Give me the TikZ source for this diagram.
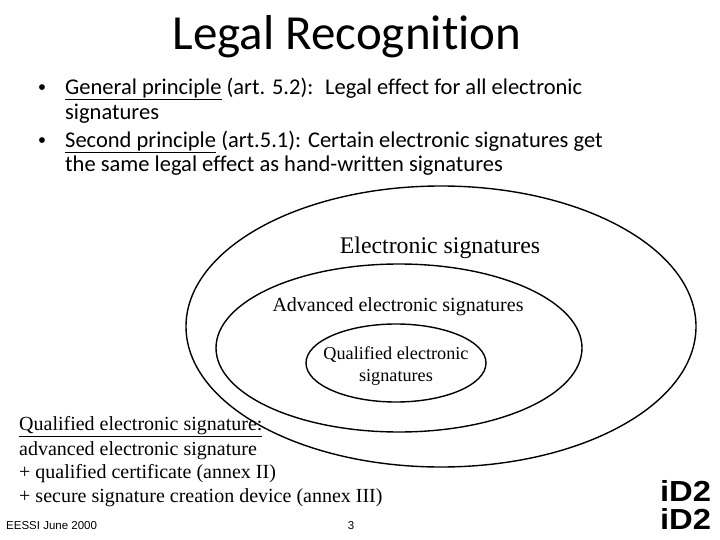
\documentclass[tikz,border=0pt]{standalone}
\usepackage{fontspec}
\setmainfont{Liberation Serif}
\setsansfont[Ligatures={NoCommon,TeX}]{Carlito}
\newfontfamily\footfont{Liberation Sans}
\tikzset{
  slidetext/.style={anchor=west,inner sep=0pt,font=\sffamily\fontsize{22.5}{22.5}\selectfont},
  bulletdot/.style={inner sep=0pt,font=\fontsize{24}{24}\selectfont},
  note/.style={anchor=west,inner sep=0pt,font=\fontsize{20}{20}\selectfont},
  logo/.style={inner sep=0pt,xscale=1.13,font=\footfont\bfseries\fontsize{29}{29}\selectfont}
}
\begin{document}
\begin{tikzpicture}[x=1pt,y=-1pt]
  \useasboundingbox (0,0) rectangle (720,540);
  % title and bullets
  \node (title) [inner sep=0pt,font=\sffamily\fontsize{49}{49}\selectfont] at (347,37) {Legal Recognition};
  \node (dotone) [bulletdot] at (42,90) {\textbullet};
  \node (lineone) [slidetext] at (65,89) {\underline{General principle} (art. 5.2):\hspace{5pt} Legal effect for all electronic};
  \node (linetwo) [slidetext] at (65,114) {signatures};
  \node (dottwo) [bulletdot] at (42,143) {\textbullet};
  \node (linethree) [slidetext] at (65,142) {\underline{Second principle} (art.5.1): Certain electronic signatures get};
  \node (linefour) [slidetext] at (65,166) {the same legal effect as hand-written signatures};
  % nested sets
  \begin{scope}[line width=1.4pt]
    \draw (441,326.5) ellipse [x radius=255,y radius=140.5];
    \draw (399,348) ellipse [x radius=183,y radius=84];
    \draw (396,363) ellipse [x radius=90,y radius=39];
  \end{scope}
  \node (esig) [inner sep=0pt,font=\fontsize{23.8}{23.8}\selectfont] at (440,248) {Electronic signatures};
  \node (asig) [inner sep=0pt,font=\fontsize{20}{20}\selectfont] at (398,307) {Advanced electronic signatures};
  \node (qsig) [inner sep=0pt,align=center,font=\fontsize{18.2}{22}\selectfont] at (396,366) {Qualified electronic\\signatures};
  % definition
  \node (defone) [note] at (19,427) {\underline{Qualified electronic signature:}};
  \node (deftwo) [note] at (19,451) {advanced electronic signature};
  \node (defthree) [note] at (19,474) {+ qualified certificate (annex II)};
  \node (deffour) [note] at (19,498) {+ secure signature creation device (annex III)};
  % footer
  \node (event) [anchor=west,inner sep=0pt,font=\footfont\fontsize{11.5}{11.5}\selectfont] at (6,526) {EESSI June 2000};
  \node (page) [inner sep=0pt,font=\footfont\fontsize{11.5}{11.5}\selectfont] at (351,526) {3};
  \node (logoa) [logo] at (685.5,491) {iD2};
  \node (logob) [logo] at (685.5,518.5) {iD2};
\end{tikzpicture}
\end{document}
